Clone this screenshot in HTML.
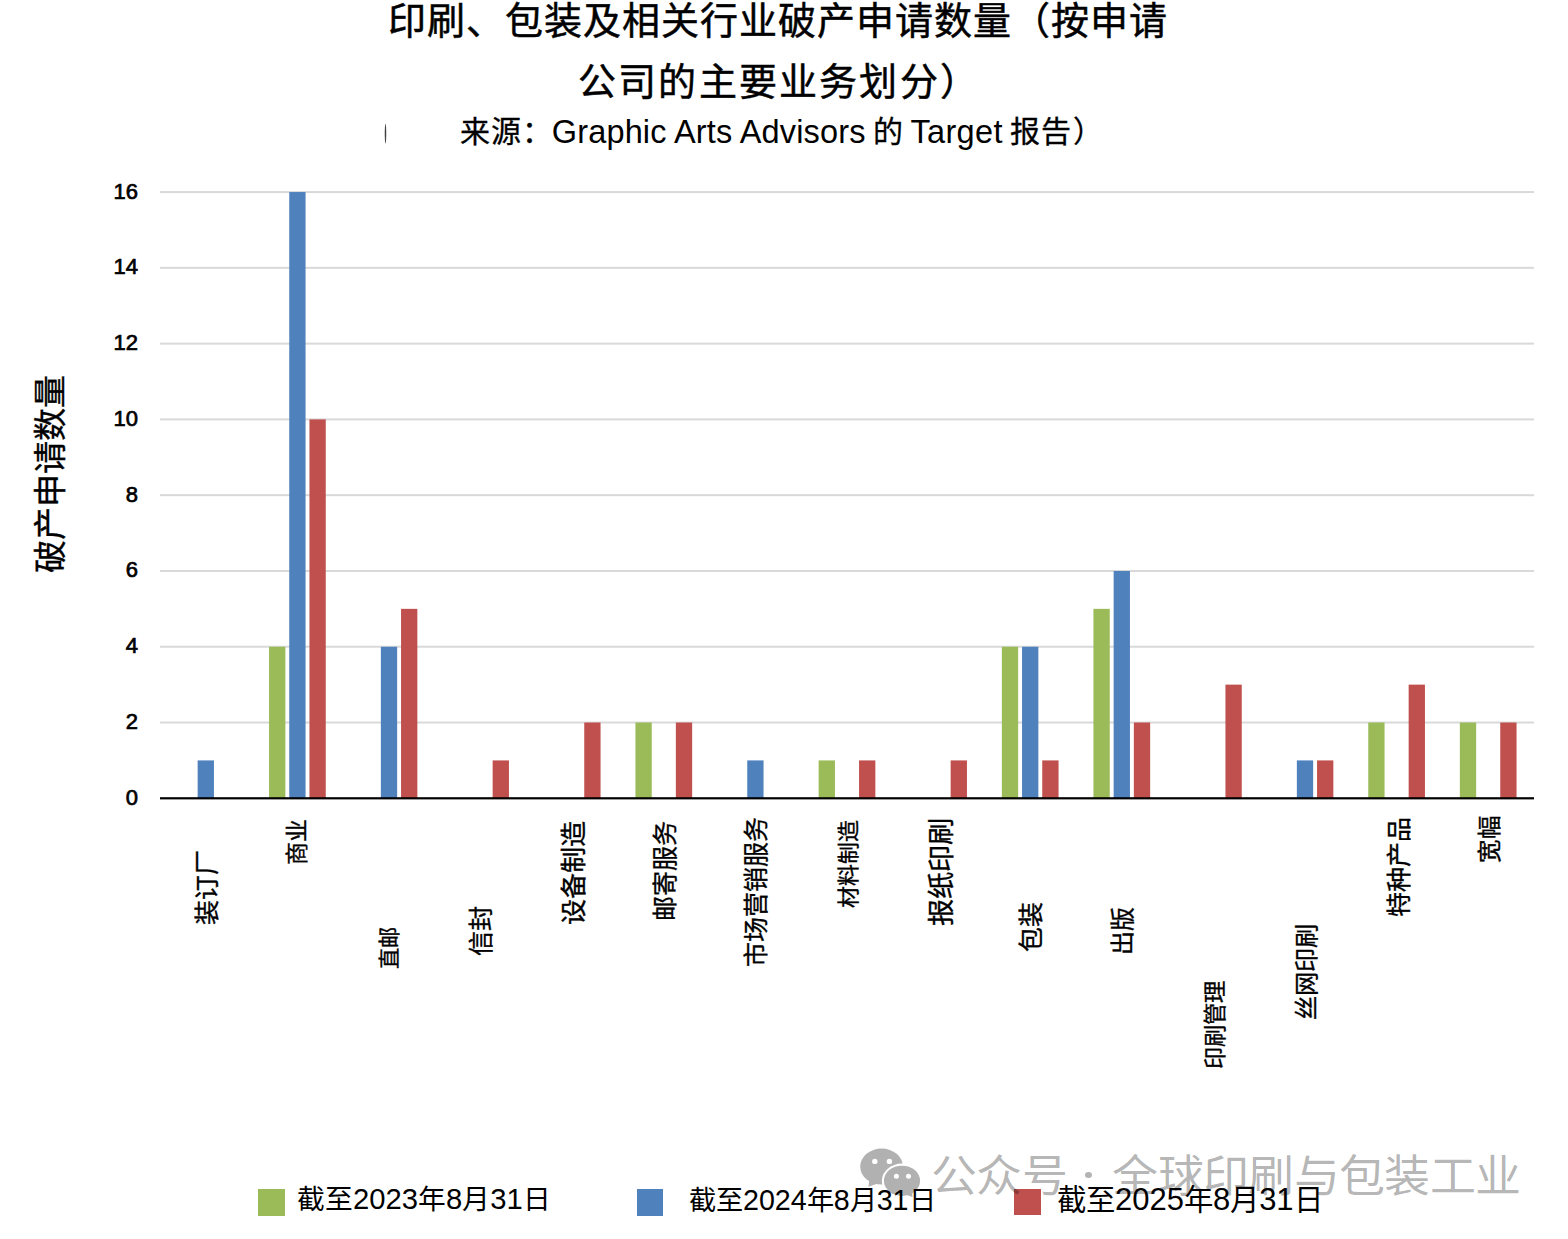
<!DOCTYPE html>
<html lang="zh-CN"><head><meta charset="utf-8"><title>chart</title>
<style>
html,body{margin:0;padding:0;background:#fff;}
body{width:1568px;height:1239px;position:relative;overflow:hidden;font-family:"Liberation Sans",sans-serif;color:#000;}
.t{position:absolute;white-space:nowrap;}
.lb{position:absolute;white-space:nowrap;transform-origin:0 0;transform:rotate(-90deg);-webkit-text-stroke:0.35px #000;}
.yt{position:absolute;left:100px;width:38px;text-align:right;font-weight:normal;font-size:22px;line-height:24px;-webkit-text-stroke:0.7px #000;}
.lg{font-size:28px;line-height:34px;font-weight:500;}
.d{font-size:1.054em;font-weight:normal;}
.sq{position:absolute;width:26.5px;height:26.5px;}
</style></head><body>
<svg style="position:absolute;left:0;top:0" width="1568" height="1239" viewBox="0 0 1568 1239">
<rect x="160" y="721.52" width="1374" height="2" fill="#D9D9D9"/>
<rect x="160" y="645.74" width="1374" height="2" fill="#D9D9D9"/>
<rect x="160" y="569.96" width="1374" height="2" fill="#D9D9D9"/>
<rect x="160" y="494.18" width="1374" height="2" fill="#D9D9D9"/>
<rect x="160" y="418.40" width="1374" height="2" fill="#D9D9D9"/>
<rect x="160" y="342.62" width="1374" height="2" fill="#D9D9D9"/>
<rect x="160" y="266.84" width="1374" height="2" fill="#D9D9D9"/>
<rect x="160" y="191.06" width="1374" height="2" fill="#D9D9D9"/>
<rect x="197.65" y="760.41" width="16.3" height="37.89" fill="#4F81BD"/>
<rect x="269.05" y="646.74" width="16.3" height="151.56" fill="#9BBB59"/>
<rect x="289.25" y="192.06" width="16.3" height="606.24" fill="#4F81BD"/>
<rect x="309.45" y="419.40" width="16.3" height="378.90" fill="#C0504D"/>
<rect x="380.85" y="646.74" width="16.3" height="151.56" fill="#4F81BD"/>
<rect x="401.05" y="608.85" width="16.3" height="189.45" fill="#C0504D"/>
<rect x="492.65" y="760.41" width="16.3" height="37.89" fill="#C0504D"/>
<rect x="584.25" y="722.52" width="16.3" height="75.78" fill="#C0504D"/>
<rect x="635.45" y="722.52" width="16.3" height="75.78" fill="#9BBB59"/>
<rect x="675.85" y="722.52" width="16.3" height="75.78" fill="#C0504D"/>
<rect x="747.25" y="760.41" width="16.3" height="37.89" fill="#4F81BD"/>
<rect x="818.65" y="760.41" width="16.3" height="37.89" fill="#9BBB59"/>
<rect x="859.05" y="760.41" width="16.3" height="37.89" fill="#C0504D"/>
<rect x="950.65" y="760.41" width="16.3" height="37.89" fill="#C0504D"/>
<rect x="1001.85" y="646.74" width="16.3" height="151.56" fill="#9BBB59"/>
<rect x="1022.05" y="646.74" width="16.3" height="151.56" fill="#4F81BD"/>
<rect x="1042.25" y="760.41" width="16.3" height="37.89" fill="#C0504D"/>
<rect x="1093.45" y="608.85" width="16.3" height="189.45" fill="#9BBB59"/>
<rect x="1113.65" y="570.96" width="16.3" height="227.34" fill="#4F81BD"/>
<rect x="1133.85" y="722.52" width="16.3" height="75.78" fill="#C0504D"/>
<rect x="1225.45" y="684.63" width="16.3" height="113.67" fill="#C0504D"/>
<rect x="1296.85" y="760.41" width="16.3" height="37.89" fill="#4F81BD"/>
<rect x="1317.05" y="760.41" width="16.3" height="37.89" fill="#C0504D"/>
<rect x="1368.25" y="722.52" width="16.3" height="75.78" fill="#9BBB59"/>
<rect x="1408.65" y="684.63" width="16.3" height="113.67" fill="#C0504D"/>
<rect x="1459.85" y="722.52" width="16.3" height="75.78" fill="#9BBB59"/>
<rect x="1500.25" y="722.52" width="16.3" height="75.78" fill="#C0504D"/>
<rect x="160" y="797.20" width="1374" height="2.2" fill="#000"/>
<ellipse cx="385.5" cy="133.6" rx="0.75" ry="9.8" fill="#222" opacity="0.85"/>
</svg>
<div class="yt" style="top:785.80px">0</div>
<div class="yt" style="top:710.02px">2</div>
<div class="yt" style="top:634.24px">4</div>
<div class="yt" style="top:558.46px">6</div>
<div class="yt" style="top:482.68px">8</div>
<div class="yt" style="top:406.90px">10</div>
<div class="yt" style="top:331.12px">12</div>
<div class="yt" style="top:255.34px">14</div>
<div class="yt" style="top:179.56px">16</div>
<div class="lb" style="left:195.08px;top:924.90px;font-size:24.88px;line-height:24.88px">装订厂</div>
<div class="lb" style="left:285.96px;top:864.87px;font-size:22.87px;line-height:22.87px">商业</div>
<div class="lb" style="left:379.21px;top:969.06px;font-size:21.16px;line-height:21.16px">直邮</div>
<div class="lb" style="left:468.51px;top:955.75px;font-size:25.03px;line-height:25.03px">信封</div>
<div class="lb" style="left:560.54px;top:925.14px;font-size:26.08px;line-height:26.08px">设备制造</div>
<div class="lb" style="left:652.83px;top:920.55px;font-size:24.99px;line-height:24.99px">邮寄服务</div>
<div class="lb" style="left:743.76px;top:967.05px;font-size:24.97px;line-height:24.97px">市场营销服务</div>
<div class="lb" style="left:837.69px;top:908.06px;font-size:21.93px;line-height:21.93px">材料制造</div>
<div class="lb" style="left:928.04px;top:925.62px;font-size:27.25px;line-height:27.25px">报纸印刷</div>
<div class="lb" style="left:1019.10px;top:952.10px;font-size:24.90px;line-height:24.90px">包装</div>
<div class="lb" style="left:1111.15px;top:955.10px;font-size:24.03px;line-height:24.03px">出版</div>
<div class="lb" style="left:1204.73px;top:1068.54px;font-size:22.30px;line-height:22.30px">印刷管理</div>
<div class="lb" style="left:1295.42px;top:1020.41px;font-size:24.21px;line-height:24.21px">丝网印刷</div>
<div class="lb" style="left:1387.20px;top:916.70px;font-size:25.00px;line-height:25.00px">特种产品</div>
<div class="lb" style="left:1478.52px;top:863.48px;font-size:23.53px;line-height:23.53px">宽幅</div>
<div class="lb" style="left:33.68px;top:572.69px;font-size:33.09px;line-height:33.09px">破产申请数量</div>
<div class="t" id="t1" style="left:388px;top:-1.6px;font-size:38px;line-height:46px;font-weight:500;letter-spacing:1px;-webkit-text-stroke:0.5px #000">印刷、包装及相关行业破产申请数量（按申请</div>
<div class="t" id="t2" style="left:578px;top:58.6px;font-size:38px;line-height:46px;font-weight:500;letter-spacing:2.2px;-webkit-text-stroke:0.5px #000">公司的主要业务划分）</div>
<div class="t" style="left:459.6px;top:113.9px;font-size:30px;line-height:36px;letter-spacing:1.2px;-webkit-text-stroke:0.3px #000">来源：</div>
<div class="t" style="left:551.8px;top:113.7px;font-size:32.5px;line-height:36px;letter-spacing:0.15px">Graphic Arts Advisors</div>
<div class="t" style="left:873.2px;top:113.9px;font-size:30px;line-height:36px;-webkit-text-stroke:0.3px #000">的</div>
<div class="t" style="left:910.4px;top:113.7px;font-size:32.5px;line-height:36px;letter-spacing:0.35px">Target</div>
<div class="t" style="left:1009.9px;top:113.9px;font-size:30px;line-height:36px;letter-spacing:1.6px;-webkit-text-stroke:0.3px #000">报告）</div>
<div class="sq" style="left:258.2px;top:1189px;background:#9BBB59"></div>
<div class="sq" style="left:636.6px;top:1189px;background:#4F81BD"></div>
<div class="sq" style="left:1014px;top:1188.6px;background:#C0504D"></div>
<svg style="position:absolute;left:850px;top:1140px" width="80" height="65" viewBox="0 0 80 65">
<g fill="#B1B1B1"><ellipse cx="31.6" cy="26.6" rx="21.4" ry="18"/><polygon points="19.5,37 18.5,46.8 29,43"/></g>
<ellipse cx="52" cy="40.8" rx="20.2" ry="17.2" fill="#fff"/>
<g fill="#B1B1B1"><ellipse cx="52" cy="40.8" rx="18.1" ry="15.1"/><polygon points="54,54 62.5,57 62,50"/></g>
<g fill="#fff"><circle cx="24.8" cy="21.4" r="2.7"/><circle cx="39.4" cy="21.4" r="2.7"/><circle cx="46.4" cy="36.2" r="2.5"/><circle cx="58.5" cy="36.2" r="2.5"/></g>
</svg>
<div class="t" id="wm" style="left:931.1px;top:1152.7px;font-size:44px;line-height:48px;letter-spacing:-0.61px;font-weight:500;transform:scaleX(1.045);transform-origin:0 0;color:rgba(0,0,0,0.3)">公众号　全球印刷与包装工业</div>
<div style="position:absolute;left:1085.4px;top:1172px;width:7px;height:6.2px;border-radius:50%;background:#B3B3B3"></div>
<div class="t lg" style="left:297px;top:1182.2px;font-size:27.75px">截至<span class="d">2023</span>年<span class="d">8</span>月<span class="d">31</span>日</div>
<div class="t lg" style="left:689px;top:1183.4px;font-size:27.2px">截至<span class="d">2024</span>年<span class="d">8</span>月<span class="d">31</span>日</div>
<div class="t lg" style="left:1057px;top:1182.8px;font-size:29.4px">截至<span class="d">2025</span>年<span class="d">8</span>月<span class="d">31</span>日</div>
</body></html>
